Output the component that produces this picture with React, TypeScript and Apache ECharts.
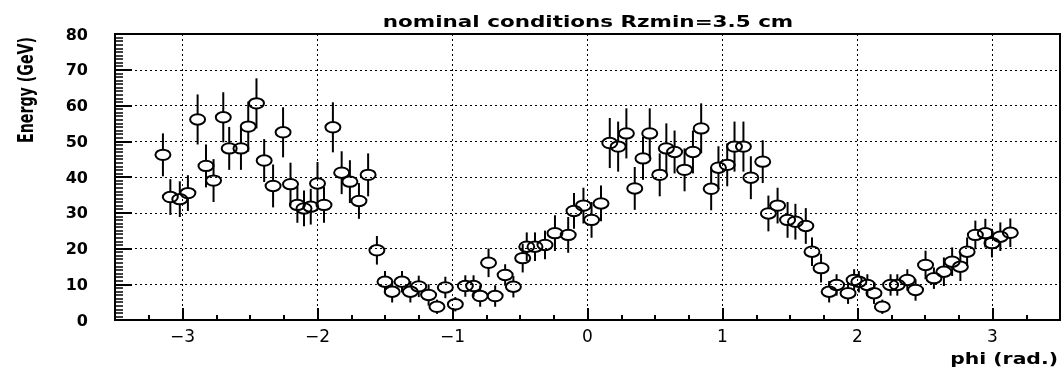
import React, { useEffect, useRef } from "react";
import * as echarts from "echarts";

const phi = [
  -3.145, -3.09, -3.02, -2.96, -2.888, -2.826, -2.77, -2.698, -2.654, -2.567,
  -2.513, -2.452, -2.395, -2.329, -2.255, -2.2, -2.149, -2.1, -2.05, -2.0,
  -1.952, -1.886, -1.821, -1.76, -1.693, -1.625, -1.56, -1.5, -1.447, -1.374,
  -1.312, -1.25, -1.177, -1.115, -1.053, -0.979, -0.905, -0.844, -0.795, -0.733,
  -0.684, -0.61, -0.549, -0.48, -0.45, -0.389, -0.315, -0.241, -0.143, -0.1,
  -0.03, 0.03, 0.1, 0.165, 0.227, 0.288, 0.35, 0.411, 0.461, 0.535,
  0.584, 0.645, 0.719, 0.781, 0.842, 0.916, 0.97, 1.035, 1.089, 1.155,
  1.21, 1.298, 1.34, 1.408, 1.482, 1.54, 1.617, 1.663, 1.73, 1.79,
  1.845, 1.93, 1.975, 2.01, 2.073, 2.122, 2.184, 2.245, 2.295, 2.369,
  2.43, 2.504, 2.566, 2.64, 2.701, 2.762, 2.812, 2.873, 2.947, 2.996,
  3.058, 3.132,
];

const energy = [
  46.2, 34.4, 33.8, 35.5, 56.1, 43.1, 39.0, 56.7, 48.0, 48.0,
  54.1, 60.6, 44.6, 37.5, 52.5, 38.0, 32.2, 31.2, 31.7, 38.2,
  32.2, 53.9, 41.2, 38.7, 33.3, 40.6, 19.5, 10.7, 7.9, 10.7,
  7.9, 9.4, 7.0, 3.7, 9.1, 4.4, 9.5, 9.5, 6.7, 16.0,
  6.7, 12.6, 9.3, 17.3, 20.5, 20.5, 21.0, 24.3, 23.8, 30.5,
  32.0, 28.0, 32.6, 49.5, 48.5, 52.2, 36.8, 45.2, 52.2, 40.6,
  48.0, 47.0, 42.0, 47.0, 53.6, 36.7, 42.6, 43.4, 48.5, 48.5,
  39.8, 44.3, 29.8, 32.0, 28.0, 27.5, 26.3, 19.1, 14.5, 7.9,
  9.8, 7.5, 11.2, 10.7, 9.8, 7.5, 3.7, 9.8, 9.8, 11.2,
  8.4, 15.4, 11.7, 13.5, 16.3, 14.9, 19.1, 23.8, 24.3, 21.5,
  23.3, 24.4,
];

const errors = [
  6, 5, 5, 5, 7, 6, 6, 7, 6, 6,
  7, 7, 6, 6, 7, 6, 5, 5, 5, 6,
  5, 7, 6, 6, 5, 6, 4, 3, 3, 3,
  3, 3, 3, 2, 3, 2, 3, 3, 3, 4,
  3, 3, 3, 4, 4, 4, 4, 5, 5, 5,
  5, 5, 5, 7, 7, 7, 6, 6, 7, 6,
  7, 6, 6, 6, 7, 6, 6, 6, 7, 7,
  6, 6, 5, 5, 5, 5, 5, 4, 4, 3,
  3, 3, 3, 3, 3, 3, 2, 3, 3, 3,
  3, 4, 3, 4, 4, 4, 4, 4, 4, 4,
  4, 4,
];

const xMajorTicks = [-3, -2, -1, 0, 1, 2, 3];
const xTickLabels = ["\u22123", "\u22122", "\u22121", "0", "1", "2", "3"];
const titleText = "nominal conditions Rzmin=3.5 cm";
const yAxisTitle = "Energy (GeV)";
const xAxisTitle = "phi (rad.)";

function measure(text: string, font: string): number {
  const c = document.createElement("canvas");
  const ctx = c.getContext("2d");
  if (!ctx) return text.length * 8;
  ctx.font = font;
  return ctx.measureText(text).width;
}

function formatX(v: any): string {
  const n = Number(v);
  const r = Math.round(n);
  if (Math.abs(n - r) > 1e-6) return "";
  const idx = xMajorTicks.indexOf(r === 0 ? 0 : r);
  return idx >= 0 ? xTickLabels[idx] : "";
}

export default function App() {
  const ref = useRef<HTMLDivElement>(null);

  useEffect(() => {
    if (!ref.current) return;
    const chart = echarts.init(ref.current, undefined, { renderer: "svg" });

    const FONT = "'DejaVu Sans', sans-serif";
    const titleW = measure(titleText, "bold 15px 'DejaVu Sans'");
    const yNameW = measure(yAxisTitle, "bold 22px 'DejaVu Sans'");
    const xNameW = measure(xAxisTitle, "bold 15px 'DejaVu Sans'");

    const data = phi.map((p, i) => [p, energy[i], errors[i]]);

    const option: any = {
      animation: false,
      grid: {
        left: 115,
        right: 4,
        top: 34,
        bottom: 49,
        show: true,
        borderColor: "#000",
        borderWidth: 2,
      },
      xAxis: [
        {
          type: "value",
          min: -3.5,
          max: 3.5,
          interval: 0.25,
          position: "bottom",
          axisLine: { show: true, onZero: false, lineStyle: { color: "#000", width: 2 } },
          axisTick: { show: true, inside: true, length: 5, lineStyle: { color: "#000", width: 2 } },
          axisLabel: { show: false },
          splitLine: { show: false },
        },
        {
          type: "value",
          min: -3.5,
          max: 3.5,
          splitNumber: 7,
          position: "bottom",
          offset: 0,
          axisLine: { show: false, onZero: false },
          axisTick: { show: true, inside: true, length: 12, lineStyle: { color: "#000", width: 2 } },
          axisLabel: {
            show: true,
            margin: 7,
            fontFamily: FONT,
            fontSize: 17,
            color: "#000",
            showMinLabel: false,
            showMaxLabel: false,
            formatter: formatX,
          },
          splitLine: { show: true, lineStyle: { color: "#000", width: 1, type: [2, 3] } },
        },
      ],
      yAxis: [
        {
          type: "value",
          min: 0,
          max: 80,
          interval: 10,
          position: "left",
          axisLine: { show: true, onZero: false, lineStyle: { color: "#000", width: 2 } },
          axisTick: { show: true, inside: true, length: 17, lineStyle: { color: "#000", width: 2 } },
          axisLabel: {
            margin: 27,
            fontFamily: FONT,
            fontWeight: "bold",
            fontSize: 16,
            color: "#000",
          },
          splitLine: { show: true, lineStyle: { color: "#000", width: 1, type: [2, 3] } },
        },
        {
          type: "value",
          min: 0,
          max: 80,
          interval: 1,
          position: "left",
          offset: 0,
          axisLine: { show: false, onZero: false },
          axisTick: { show: true, inside: true, length: 8, lineStyle: { color: "#000", width: 1.5 } },
          axisLabel: { show: false },
          splitLine: { show: false },
        },
      ],
      graphic: [
        {
          type: "text",
          x: 588,
          y: 22,
          scaleX: 411 / titleW,
          style: {
            text: titleText,
            fontFamily: FONT,
            fontWeight: "bold",
            fontSize: 15,
            fill: "#000",
            align: "center",
            verticalAlign: "middle",
          },
        },
        {
          type: "text",
          x: 25,
          y: 90,
          rotation: Math.PI / 2,
          scaleX: 106 / yNameW,
          style: {
            text: yAxisTitle,
            fontFamily: FONT,
            fontWeight: "bold",
            fontSize: 22,
            fill: "#000",
            align: "center",
            verticalAlign: "middle",
          },
        },
        {
          type: "text",
          x: 1058,
          y: 359,
          scaleX: 108 / xNameW,
          style: {
            text: xAxisTitle,
            fontFamily: FONT,
            fontWeight: "bold",
            fontSize: 15,
            fill: "#000",
            align: "right",
            verticalAlign: "middle",
          },
        },
      ],
      series: [
        {
          type: "custom",
          xAxisIndex: 0,
          yAxisIndex: 0,
          data,
          encode: { x: 0, y: 1 },
          renderItem: (params: any, api: any) => {
            const x = api.value(0);
            const y = api.value(1);
            const e = api.value(2);
            const c = api.coord([x, y]);
            const top = api.coord([x, y + e]);
            const bot = api.coord([x, Math.max(0, y - e)]);
            const rx = 7.5;
            const ry = 5.2;
            const children: any[] = [];
            const ls = { stroke: "#000", lineWidth: 2 };
            if (top[1] < c[1] - ry) {
              children.push({ type: "line", shape: { x1: c[0], y1: top[1], x2: c[0], y2: c[1] - ry }, style: ls });
            }
            if (bot[1] > c[1] + ry) {
              children.push({ type: "line", shape: { x1: c[0], y1: c[1] + ry, x2: c[0], y2: bot[1] }, style: ls });
            }
            children.push({
              type: "ellipse",
              shape: { cx: c[0], cy: c[1], rx, ry },
              style: { fill: "none", stroke: "#000", lineWidth: 2 },
            });
            return { type: "group", children };
          },
        },
      ],
    };

    chart.setOption(option);
    return () => chart.dispose();
  }, []);

  return <div ref={ref} style={{ position: "fixed", left: 0, top: 0, width: 1064, height: 369 }} />;
}
